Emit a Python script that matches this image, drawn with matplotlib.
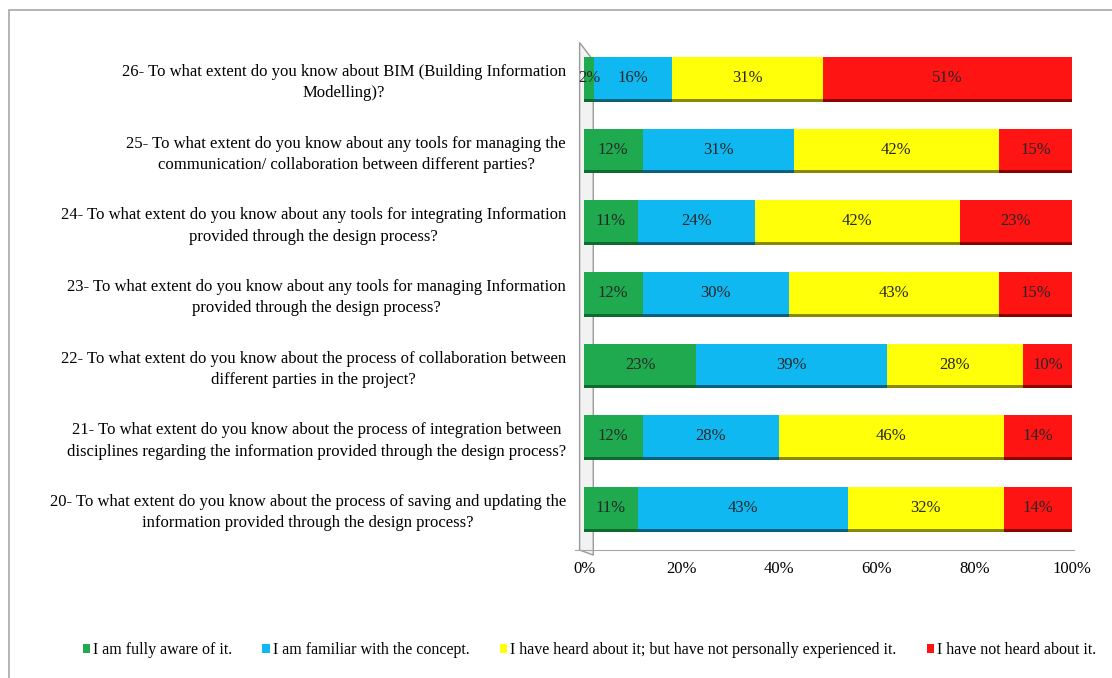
import numpy as np
import matplotlib.pyplot as plt
from matplotlib.patches import Polygon, Rectangle

# Survey answers (percent), rows from question 20 (bottom) to 26 (top)
questions = [
    "20- To what extent do you know about the process of saving and updating the\ninformation provided through the design process?",
    "21- To what extent do you know about the process of integration between\ndisciplines regarding the information provided through the design process?",
    "22- To what extent do you know about the process of collaboration between\ndifferent parties in the project?",
    "23- To what extent do you know about any tools for managing Information\nprovided through the design process?",
    "24- To what extent do you know about any tools for integrating Information\nprovided through the design process?",
    "25- To what extent do you know about any tools for managing the\ncommunication/ collaboration between different parties?",
    "26- To what extent do you know about BIM (Building Information\nModelling)?",
]
aware = [11, 12, 23, 12, 11, 12, 2]
familiar = [43, 28, 39, 30, 24, 31, 16]
heard = [32, 46, 28, 43, 42, 42, 31]
not_heard = [14, 14, 10, 15, 23, 15, 51]

series_names = ["I am fully aware of it.", "I am familiar with the concept.",
                "I have heard about it; but have not personally experienced it.",
                "I have not heard about it."]
colors = ["#1faa4f", "#10b8f2", "#ffff0a", "#ff1414"]
shades = ["#0f6a30", "#08607f", "#8a8a00", "#8a0000"]
xticks = [0, 20, 40, 60, 80, 100]

plt.rcParams['font.family'] = ['Liberation Serif', 'DejaVu Serif']

fig = plt.figure(figsize=(11.12, 6.78), dpi=100)
ax = fig.add_axes([584/1112, 1 - 550/678, 488/1112, 510/678])

# chart area border (runs off right/bottom edges)
fig.patches.append(Rectangle((9/1112, -0.05), 1.2, 1 - 10/678 + 0.05,
                             transform=fig.transFigure, fill=False,
                             edgecolor='#a8a8a8', linewidth=1.2))

# 3D side wall
wall = Polygon([(-0.009, 0.0), (-0.009, 0.995), (0.019, 0.96), (0.019, -0.01)],
               closed=True, transform=ax.transAxes, facecolor='#f2f2f2',
               edgecolor='#9a9a9a', linewidth=1.0, clip_on=False, zorder=1)
ax.add_patch(wall)

y = np.arange(len(questions))
h = 0.59
data = [aware, familiar, heard, not_heard]
left = np.zeros(len(questions))
for vals, c, s, name in zip(data, colors, shades, series_names):
    vals = np.array(vals)
    ax.barh(y, vals, left=left, height=h, color=c, edgecolor='none',
            label=name, zorder=3)
    # darker underside to mimic the 3D look
    ax.barh(y - h/2 - 0.015, vals, left=left, height=0.04, color=s,
            edgecolor='none', zorder=3)
    for yi, l, v in zip(y, left, vals):
        ax.text(l + v/2, yi, f"{v}%", ha='center', va='center',
                fontsize=12, color='#262626', zorder=4)
    left += vals

ax.set_xlim(0, 100)
ax.set_ylim(-0.586, 6.53)
ax.set_xticks(xticks)
ax.set_xticklabels([f"{t}%" for t in xticks], fontsize=12)
ax.set_yticks(y)
ax.set_yticklabels(questions, fontsize=12, multialignment='center',
                   linespacing=1.45)
ax.tick_params(axis='both', length=0)
ax.tick_params(axis='y', pad=13)
ax.tick_params(axis='x', pad=8)
for sp in ['top', 'right', 'left']:
    ax.spines[sp].set_visible(False)
ax.spines['bottom'].set_color('#a6a6a6')
ax.spines['bottom'].set_bounds(-1.8, 100.5)

handles, labels = ax.get_legend_handles_labels()
fig.legend(handles, labels, loc='center', bbox_to_anchor=(0.53, 1 - 650/678),
           ncol=4, frameon=False, fontsize=11.5, handlelength=0.45,
           handleheight=0.55, handletextpad=0.2, columnspacing=1.9)

fig.savefig('out.png', dpi=100)
